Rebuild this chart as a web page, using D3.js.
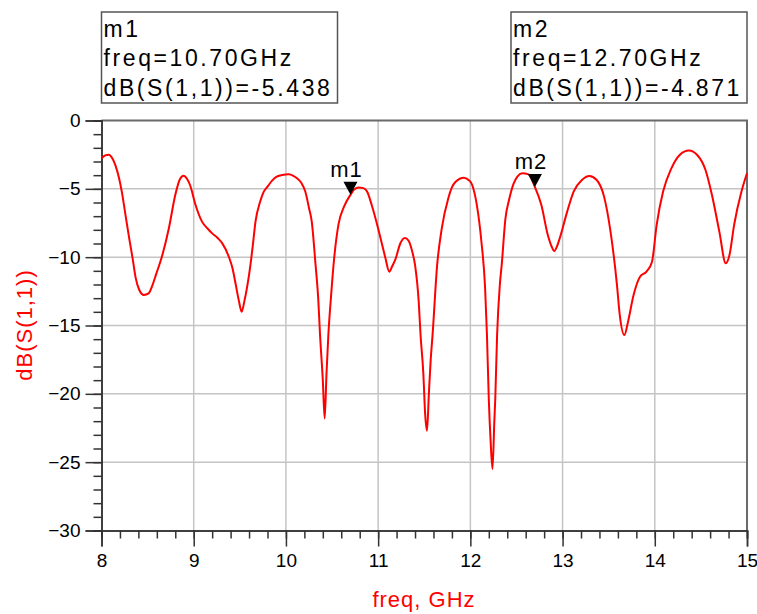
<!DOCTYPE html>
<html>
<head>
<meta charset="utf-8">
<script src="https://cdn.jsdelivr.net/npm/d3@7"></script>
<style>
body { margin: 0; background: #fff; }
text { font-family: Arial, "Liberation Sans", sans-serif; }
</style>
</head>
<body>
<div id="chart"></div>
<script>
var svgWidth = 757;
var svgHeight = 614;
var plotLeft = 101.5, plotRight = 747, plotTop = 120.5, plotBottom = 530.5;

// S11 in dB
var freq = [8.00, 8.04, 8.08, 8.12, 8.15, 8.19, 8.22, 8.26, 8.30, 8.34, 8.37, 8.41, 8.46, 8.51, 8.55, 8.59, 8.66, 8.73, 8.80, 8.85,
	8.89, 8.93, 8.96, 9.02, 9.09, 9.15, 9.20, 9.26, 9.31, 9.38, 9.42, 9.45, 9.49, 9.52, 9.55, 9.60, 9.64, 9.67, 9.72, 9.76,
	9.80, 9.85, 9.90, 9.96, 10.03, 10.08, 10.12, 10.17, 10.21, 10.25, 10.28, 10.32, 10.35, 10.37, 10.40, 10.42, 10.44, 10.46, 10.49, 10.52,
	10.57, 10.63, 10.70, 10.74, 10.79, 10.84, 10.88, 10.93, 11.00, 11.04, 11.08, 11.12, 11.15, 11.19, 11.24, 11.29, 11.33, 11.37, 11.40, 11.44,
	11.46, 11.49, 11.51, 11.53, 11.55, 11.57, 11.59, 11.64, 11.69, 11.76, 11.80, 11.84, 11.93, 11.98, 12.02, 12.07, 12.12, 12.16, 12.18, 12.20,
	12.22, 12.24, 12.26, 12.27, 12.29, 12.32, 12.34, 12.38, 12.42, 12.47, 12.51, 12.56, 12.63, 12.70, 12.77, 12.84, 12.88, 12.91, 12.94, 12.97,
	13.05, 13.12, 13.21, 13.29, 13.37, 13.45, 13.52, 13.59, 13.62, 13.67, 13.71, 13.77, 13.84, 13.91, 13.97, 14.02, 14.09, 14.18, 14.27, 14.37,
	14.46, 14.55, 14.62, 14.70, 14.77, 14.81, 14.86, 14.94, 15.00];
var s11 = [-2.77, -2.55, -2.50, -2.80, -3.26, -4.20, -5.20, -6.90, -8.60, -10.2, -11.5, -12.4, -12.77, -12.65, -12.1, -11.3, -9.84, -7.90, -5.45, -4.30,
	-4.04, -4.30, -4.72, -6.18, -7.40, -7.90, -8.26, -8.60, -8.99, -9.96, -10.8, -11.8, -13.2, -13.99, -13.2, -11.3, -9.20, -7.40, -5.94, -5.20,
	-4.84, -4.40, -4.11, -3.98, -3.94, -4.05, -4.23, -4.60, -5.20, -6.40, -7.40, -10.45, -13.0, -15.7, -19.0, -21.8, -18.5, -15.7, -12.8, -10.3,
	-7.60, -6.30, -5.44, -5.05, -4.91, -4.95, -5.20, -6.18, -7.90, -9.00, -10.1, -11.06, -10.7, -10.1, -9.00, -8.60, -8.80, -9.60, -10.57, -13.26,
	-15.7, -18.5, -21.5, -22.7, -20.0, -17.5, -15.7, -10.57, -7.90, -5.70, -4.90, -4.48, -4.18, -4.35, -4.72, -6.18, -8.87, -12.28, -15.7, -20.4,
	-23.5, -25.5, -22.0, -20.4, -15.7, -12.0, -10.57, -7.20, -5.80, -4.60, -4.10, -3.86, -3.94, -4.87, -6.18, -8.38, -9.20, -9.55, -9.20, -8.60,
	-6.67, -5.20, -4.35, -4.06, -4.35, -5.57, -8.13, -12.04, -14.23, -15.7, -14.72, -12.77, -11.43, -11.06, -10.33, -7.65, -5.20, -3.50, -2.52, -2.20,
	-2.52, -3.62, -5.45, -8.13, -10.45, -9.84, -7.65, -5.20, -3.86];

var xTicks = [8, 9, 10, 11, 12, 13, 14, 15];
var yTicks = [0, -5, -10, -15, -20, -25, -30];
var markerNames = ["m1", "m2"];
var markerFreq = [10.70, 12.70];
var markerValue = [-5.438, -4.871];

function drawChart()
{
	var svg = d3.select("#chart").append("svg")
		.attr("width", svgWidth)
		.attr("height", svgHeight);

	var x = d3.scaleLinear().domain([8, 15]).range([plotLeft, plotRight]);
	var y = d3.scaleLinear().domain([0, -30]).range([plotTop, plotBottom]);

	// grid
	svg.append("g").selectAll("line")
		.data(xTicks.slice(1, -1))
		.enter().append("line")
		.attr("x1", function (d) { return x(d); })
		.attr("x2", function (d) { return x(d); })
		.attr("y1", plotTop).attr("y2", plotBottom)
		.style("stroke", "#c4c4c4").style("stroke-width", 1.5);
	svg.append("g").selectAll("line")
		.data(yTicks.slice(1, -1))
		.enter().append("line")
		.attr("x1", plotLeft).attr("x2", plotRight)
		.attr("y1", function (d) { return y(d); })
		.attr("y2", function (d) { return y(d); })
		.style("stroke", "#c4c4c4").style("stroke-width", 1.5);

	// frame top and right
	svg.append("path")
		.attr("d", "M" + plotLeft + "," + plotTop + "H" + plotRight + "V" + plotBottom)
		.style("fill", "none").style("stroke", "#6a6a6a").style("stroke-width", 2);

	// x axis
	var xAxis = svg.append("g").attr("transform", "translate(0," + plotBottom + ")");
	xAxis.call(d3.axisBottom(x).tickValues(d3.range(8, 15.001, 0.2)).tickSize(8).tickFormat(""));
	xAxis.append("g").call(d3.axisBottom(x).tickValues(xTicks).tickSize(16).tickPadding(7).tickFormat(d3.format("d")));
	xAxis.selectAll("text").style("font-size", "19px").style("fill", "#000").style("font-family", "Arial, 'Liberation Sans', sans-serif");

	// y axis
	var yAxis = svg.append("g").attr("transform", "translate(" + plotLeft + ",0)");
	yAxis.call(d3.axisLeft(y).tickValues(d3.range(0, -30.001, -1)).tickSize(8).tickFormat(""));
	yAxis.append("g").call(d3.axisLeft(y).tickValues(yTicks).tickSize(16).tickPadding(5).tickFormat(d3.format("d")));
	yAxis.selectAll("text").style("font-size", "19px").style("fill", "#000").style("font-family", "Arial, 'Liberation Sans', sans-serif");

	svg.selectAll(".domain").style("stroke", "#333").style("stroke-width", 1.5);
	svg.selectAll(".tick line").style("stroke", "#333").style("stroke-width", 1.5);

	// axis titles
	svg.append("text")
		.attr("x", 424).attr("y", 607)
		.attr("text-anchor", "middle")
		.style("font-size", "22px").style("letter-spacing", "1px")
		.style("fill", "#ff0000")
		.text("freq, GHz");
	svg.append("text")
		.attr("transform", "translate(32,325) rotate(-90)")
		.attr("text-anchor", "middle")
		.style("font-size", "22px").style("letter-spacing", "1px")
		.style("fill", "#ff0000")
		.text("dB(S(1,1))");

	// trace
	var line = d3.line()
		.x(function (d, i) { return x(freq[i]); })
		.y(function (d) { return y(d); })
		.curve(d3.curveMonotoneX);
	svg.append("path")
		.datum(s11)
		.attr("d", line)
		.style("fill", "none")
		.style("stroke", "#ff0000")
		.style("stroke-width", 2);

	// markers
	for (var i = 0; i < markerNames.length; i++)
	{
		var mx = x(markerFreq[i]);
		var my = y(markerValue[i]);
		svg.append("path")
			.attr("d", "M" + (mx - 7) + "," + (my - 13) + "H" + (mx + 7) + "L" + mx + "," + my + "Z")
			.style("fill", "#000");
		svg.append("text")
			.attr("x", mx - 4).attr("y", my - 18)
			.attr("text-anchor", "middle")
			.style("font-size", "22px").style("letter-spacing", "1px")
			.text(markerNames[i]);
	}

	// marker readout boxes
	var boxLeft = [101.5, 511];
	for (var i = 0; i < markerNames.length; i++)
	{
		var box = svg.append("g").attr("transform", "translate(" + boxLeft[i] + ",12)");
		box.append("rect")
			.attr("width", 236).attr("height", 91)
			.style("fill", "#fff").style("stroke", "#555").style("stroke-width", 1.5);
		var lines = [markerNames[i], "freq=" + markerFreq[i].toFixed(2) + "GHz", "dB(S(1,1))=" + markerValue[i].toFixed(3)];
		box.selectAll("text.readout")
			.data(lines)
			.enter().append("text")
			.attr("class", "readout")
			.attr("x", 2)
			.attr("y", function (d, j) { return 24.5 + j * 29.5; })
			.style("font-size", "23px").style("letter-spacing", "2.6px")
			.style("fill", "#000")
			.text(function (d) { return d; });
	}
}

drawChart();
</script>
</body>
</html>
